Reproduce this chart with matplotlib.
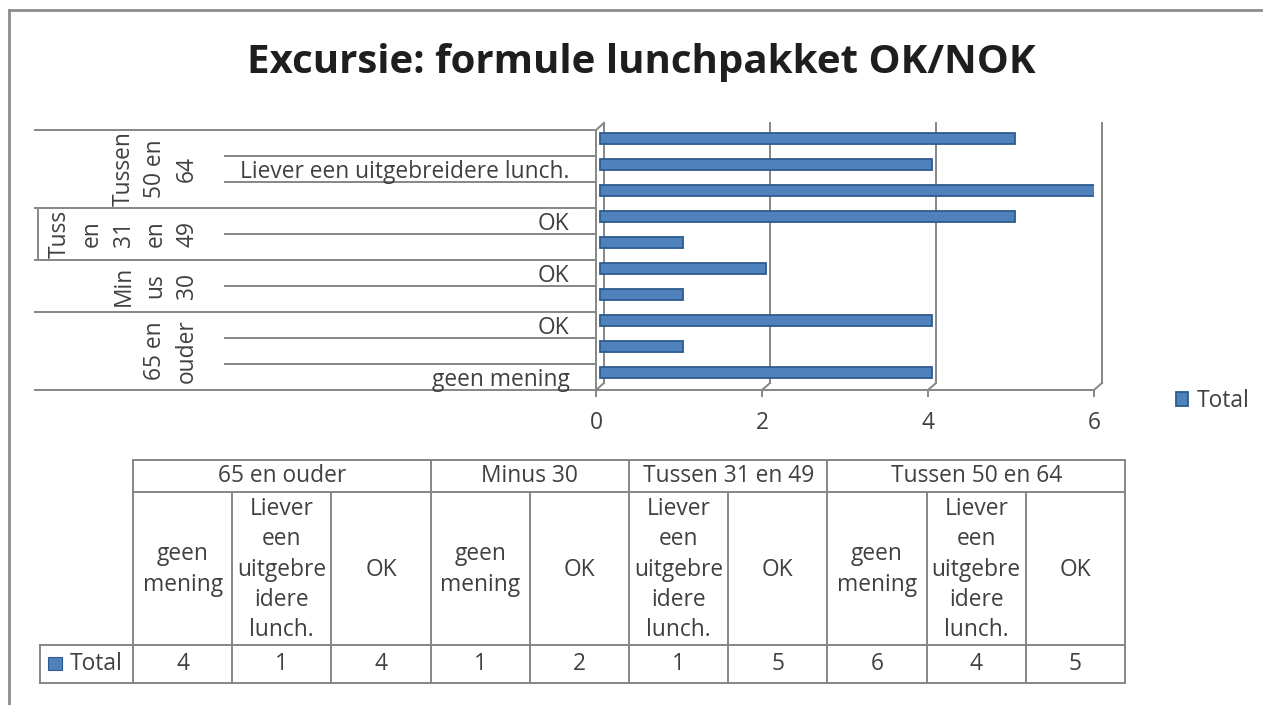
import numpy as np
import matplotlib
matplotlib.use("Agg")
import matplotlib.pyplot as plt
from matplotlib.transforms import ScaledTranslation, blended_transform_factory
from matplotlib.patches import Rectangle

# ---------------- data ----------------
title = "Excursie: formule lunchpakket OK/NOK"
series_name = "Total"
groups = ["65 en ouder", "Minus 30", "Tussen 31 en 49", "Tussen 50 en 64"]
group_axis_labels = ["65 en\nouder", "Min\nus\n30", "Tuss\nen\n31\nen\n49", "Tussen\n50 en\n64"]
category_group = [0, 0, 0, 1, 1, 2, 2, 3, 3, 3]
category_answer = ["geen mening", "Liever een uitgebreidere lunch.", "OK",
                   "geen mening", "OK",
                   "Liever een uitgebreidere lunch.", "OK",
                   "geen mening", "Liever een uitgebreidere lunch.", "OK"]
table_answer_labels = {"geen mening": "geen\nmening",
                       "Liever een uitgebreidere lunch.": "Liever\neen\nuitgebre\nidere\nlunch.",
                       "OK": "OK"}
total = [4, 1, 4, 1, 2, 1, 5, 6, 4, 5]
x_ticks = [0, 2, 4, 6]

# ---------------- style ----------------
plt.rcParams['font.family'] = ['Open Sans', 'DejaVu Sans']
BAR = '#4F81BD'
EDGE = '#2E5B8F'
GRID = '#868686'
TEXT = '#404040'
FS = 16.4

W, H = 1263, 705
fig = plt.figure(figsize=(W / 100, H / 100), dpi=100)
ov = fig.add_axes([0, 0, 1, 1])
ov.set_xlim(0, W)
ov.set_ylim(H, 0)
ov.axis('off')

# chart border (left / top)
ov.plot([9, 9], [10, H], color='#8c8c8c', lw=2)
ov.plot([9, W], [10, 10], color='#8c8c8c', lw=2)

# title
fig.text(641 / W, 1 - 62 / H, title, ha='center', va='center',
         fontsize=29, fontweight='bold', color='#1e1e1e')

# ---------------- main axes ----------------
X0, X6 = 596, 1094
YT, YB = 130, 390
n = len(total)
ax = fig.add_axes([X0 / W, 1 - YB / H, (X6 - X0) / W, (YB - YT) / H])
ax.set_xlim(0, 6)
ax.set_ylim(-0.5, n - 0.5)
ax.patch.set_alpha(0)
for s in ['top', 'right']:
    ax.spines[s].set_visible(False)
for s in ['bottom', 'left']:
    ax.spines[s].set_color(GRID)
    ax.spines[s].set_linewidth(1.4)

px_per_x = (X6 - X0) / 6
px_per_y = (YB - YT) / n
DX = 8 / px_per_x
DY = 7 / px_per_y

# back wall gridlines + floor slants
for t in x_ticks:
    ax.plot([t + DX, t + DX], [-0.5 + DY, n - 0.5 + DY], color=GRID, lw=1.4, clip_on=False, zorder=1)
    ax.plot([t, t + DX], [-0.5, -0.5 + DY], color=GRID, lw=1.4, clip_on=False, zorder=1)
ax.plot([0, DX], [n - 0.5, n - 0.5 + DY], color=GRID, lw=1.4, clip_on=False, zorder=1)

ax.set_xticks(x_ticks)
ax.set_xticklabels([str(t) for t in x_ticks])
ax.tick_params(axis='x', length=5, width=1.4, color=GRID, pad=10, labelsize=FS, labelcolor=TEXT)
ax.set_yticks(range(n))
ax.set_yticklabels([category_answer[i] if i % 2 == 0 else '' for i in range(n)])
ax.tick_params(axis='y', length=0, pad=19, labelsize=FS, labelcolor=TEXT)

bars = ax.barh(np.arange(n), total, height=0.42, color=BAR, edgecolor=EDGE,
               linewidth=1.3, zorder=3)
off = ScaledTranslation(4 / 100, 4.5 / 100, fig.dpi_scale_trans)
for p in bars:
    p.set_transform(ax.transData + off)

# category label lines and group labels
bt = blended_transform_factory(ov.transData, ax.transData)
ov.plot([35, X0], [-0.5, -0.5], transform=bt, color=GRID, lw=1.4, clip_on=False)
ov.plot([35, X0], [n - 0.5, n - 0.5], transform=bt, color=GRID, lw=1.4, clip_on=False)
for i in range(1, n):
    xs = 35 if category_group[i] != category_group[i - 1] else 225
    ov.plot([xs, X0], [i - 0.5, i - 0.5], transform=bt, color=GRID, lw=1.4, clip_on=False)

for g, lab in enumerate(group_axis_labels):
    idx = [i for i in range(n) if category_group[i] == g]
    yc = (min(idx) + max(idx)) / 2
    ov.text(199, yc, lab, transform=bt, rotation=90, ha='right', va='center',
            multialignment='center', linespacing=1.43, fontsize=FS, color=TEXT)
    if lab.count('\n') >= 4:
        ov.plot([38, 38], [min(idx) - 0.5, max(idx) + 0.5], transform=bt, color=GRID, lw=1.4)

# legend
fig.legend(handles=[bars], labels=[series_name], loc='center left',
           bbox_to_anchor=(1155 / W, 1 - 401 / H), frameon=False, fontsize=FS,
           handlelength=0.55, handleheight=0.55, handletextpad=0.4, labelcolor=TEXT)

# ---------------- data table ----------------
tx0, cw = 133, 99.2
ty = [460, 492, 645, 683]
leg_x = 40
xe = tx0 + n * cw
kw = dict(color=GRID, lw=1.4)
ov.plot([tx0, xe], [ty[0], ty[0]], **kw)
ov.plot([tx0, xe], [ty[1], ty[1]], **kw)
ov.plot([leg_x, xe], [ty[2], ty[2]], **kw)
ov.plot([leg_x, xe], [ty[3], ty[3]], **kw)
ov.plot([leg_x, leg_x], [ty[2], ty[3]], **kw)
for i in range(n + 1):
    xb = tx0 + i * cw
    full = i in (0, n) or category_group[i] != category_group[i - 1]
    ov.plot([xb, xb], [ty[0] if full else ty[1], ty[3]], **kw)

for g, name in enumerate(groups):
    idx = [i for i in range(n) if category_group[i] == g]
    xc = tx0 + (min(idx) + max(idx) + 1) / 2 * cw
    ov.text(xc, (ty[0] + ty[1]) / 2, name, ha='center', va='center', fontsize=FS, color=TEXT)

for i in range(n):
    xc = tx0 + (i + 0.5) * cw
    ov.text(xc, (ty[1] + ty[2]) / 2 + 1, table_answer_labels[category_answer[i]], ha='center',
            va='center', multialignment='center', linespacing=1.36, fontsize=FS, color=TEXT)
    ov.text(xc, (ty[2] + ty[3]) / 2, str(total[i]), ha='center', va='center',
            fontsize=FS, color=TEXT)

ov.add_patch(Rectangle((48, 657), 14, 13, facecolor=BAR, edgecolor=EDGE, lw=0.8))
ov.text(70, (ty[2] + ty[3]) / 2, series_name, ha='left', va='center', fontsize=FS, color=TEXT)

fig.savefig('out.png', dpi=100)
